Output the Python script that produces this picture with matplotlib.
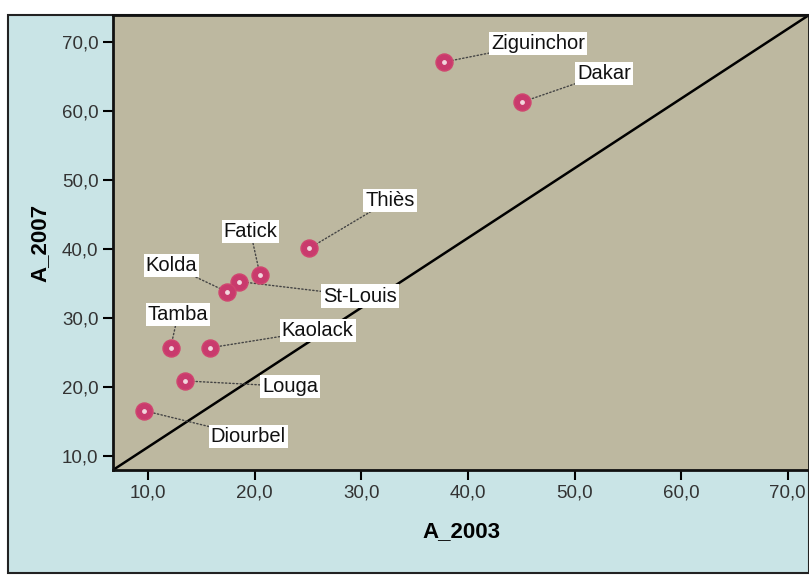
import numpy as np
import matplotlib.pyplot as plt
from matplotlib.patches import Rectangle
from matplotlib.ticker import FuncFormatter

plt.rcParams['font.family'] = ['Liberation Sans', 'DejaVu Sans']

# regions of Senegal, A_2003 vs A_2007
regions = ["Ziguinchor", "Dakar", "Thiès", "Fatick", "St-Louis",
           "Kolda", "Tamba", "Kaolack", "Louga", "Diourbel"]
a_2003 = [37.8, 45.1, 25.1, 20.5, 18.5, 17.4, 12.1, 15.8, 13.5, 9.6]
a_2007 = [67.1, 61.3, 40.1, 36.2, 35.3, 33.8, 25.7, 25.7, 20.9, 16.6]

# where each label box sits (data coords)
label_pos = [(46.6, 69.8), (52.8, 65.4), (32.7, 47.1), (19.6, 42.5), (29.9, 33.2),
             (12.2, 37.6), (12.8, 30.5), (25.9, 28.2), (23.3, 20.1), (19.4, 12.9)]

ticks = [10, 20, 30, 40, 50, 60, 70]

fig = plt.figure(figsize=(8.09, 5.75), dpi=100)
fig.patch.set_facecolor('white')

# light blue chart panel with dark frame
W, H = 809, 575
panel = Rectangle((8 / W, 2 / H), 1 - 8 / W, (573 - 15) / H, transform=fig.transFigure,
                  facecolor='#c9e4e6', edgecolor='#222222', linewidth=1.5, zorder=-10)
fig.patches.append(panel)

ax = fig.add_axes([113 / W, 105 / H, 1 - 113 / W, 455 / H])
ax.set_zorder(1)
ax.set_facecolor('#bdb8a0')
ax.set_xlim(6.7, 72.0)
ax.set_ylim(8.0, 73.9)

# diagonal reference line, corner to corner
ax.plot([0, 1], [0, 1], transform=ax.transAxes, color='black', linewidth=1.8, zorder=2)

for name, x, y, (lx, ly) in zip(regions, a_2003, a_2007, label_pos):
    ax.annotate(name, xy=(x, y), xytext=(lx, ly), ha='center', va='center',
                fontsize=14.5, color='#111111',
                bbox=dict(boxstyle='square,pad=0.1', facecolor='white', edgecolor='none'),
                arrowprops=dict(arrowstyle='-', linestyle=':', color='#444444',
                                linewidth=1.0, shrinkA=0, shrinkB=0),
                zorder=4)

ax.scatter(a_2003, a_2007, s=150, color='#c93a6d', edgecolor='#d0456f', zorder=5)
ax.scatter(a_2003, a_2007, s=6, color='#f2d6de', zorder=6)

fmt = FuncFormatter(lambda v, p: f"{v:.1f}".replace('.', ','))
ax.set_xticks(ticks)
ax.set_yticks(ticks)
ax.xaxis.set_major_formatter(fmt)
ax.yaxis.set_major_formatter(fmt)
ax.tick_params(direction='out', length=7, width=1.5, labelsize=13.5,
               labelcolor='#333333', color='black')
for s in ax.spines.values():
    s.set_linewidth(2)
    s.set_color('#111111')

ax.set_xlabel('A_2003', fontsize=16, fontweight='bold', labelpad=14)
ax.set_ylabel('A_2007', fontsize=16, fontweight='bold', labelpad=8)

fig.savefig('out.png', dpi=100)
